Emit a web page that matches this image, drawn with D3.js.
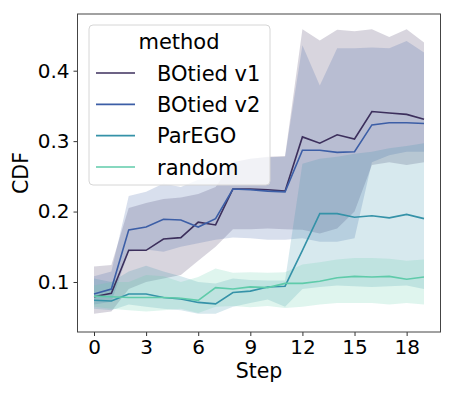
<!DOCTYPE html>
<meta charset="utf-8">
<script src="https://d3js.org/d3.v7.min.js"></script>
<style>
  body { margin: 0; background: #fff; }
  text { font-family: "DejaVu Sans", sans-serif; fill: #000; }
</style>
<div id="my_dataviz"></div>
<script>

// steps on the x axis
const steps = d3.range(0, 20)

// series names and colours
const methods = ["BOtied v1", "BOtied v2", "ParEGO", "random"]
const colors = ["#3c2f5c", "#3c5ea6", "#3592a8", "#5fcbaa"]

// mean CDF per step
const botiedV1 = [0.079, 0.084, 0.145, 0.145, 0.161, 0.163, 0.185, 0.181, 0.232, 0.232, 0.231, 0.229, 0.306, 0.297, 0.309, 0.303, 0.342, 0.340, 0.338, 0.331]
const botiedV2 = [0.083, 0.090, 0.174, 0.178, 0.189, 0.188, 0.178, 0.190, 0.232, 0.231, 0.229, 0.228, 0.287, 0.287, 0.284, 0.285, 0.323, 0.326, 0.326, 0.325]
const parego   = [0.074, 0.073, 0.083, 0.083, 0.078, 0.076, 0.071, 0.069, 0.085, 0.087, 0.093, 0.094, 0.145, 0.197, 0.197, 0.192, 0.194, 0.191, 0.196, 0.190]
const random   = [0.080, 0.079, 0.078, 0.078, 0.078, 0.077, 0.074, 0.092, 0.090, 0.093, 0.092, 0.098, 0.098, 0.101, 0.106, 0.108, 0.107, 0.108, 0.104, 0.107]

// confidence bands (lower / upper)
const botiedV1Lo = [0.055, 0.058, 0.090, 0.100, 0.105, 0.110, 0.130, 0.150, 0.175, 0.175, 0.176, 0.175, 0.174, 0.169, 0.176, 0.200, 0.266, 0.270, 0.266, 0.270]
const botiedV1Hi = [0.122, 0.124, 0.205, 0.212, 0.218, 0.220, 0.225, 0.235, 0.270, 0.275, 0.278, 0.279, 0.459, 0.443, 0.458, 0.456, 0.459, 0.448, 0.459, 0.440]
const botiedV2Lo = [0.068, 0.072, 0.143, 0.146, 0.143, 0.150, 0.155, 0.160, 0.163, 0.162, 0.160, 0.160, 0.162, 0.157, 0.157, 0.162, 0.270, 0.280, 0.285, 0.285]
const botiedV2Hi = [0.108, 0.115, 0.222, 0.228, 0.240, 0.235, 0.245, 0.250, 0.270, 0.275, 0.277, 0.278, 0.436, 0.379, 0.432, 0.432, 0.433, 0.432, 0.442, 0.426]
const paregoLo   = [0.062, 0.060, 0.068, 0.065, 0.062, 0.060, 0.055, 0.055, 0.065, 0.070, 0.075, 0.065, 0.090, 0.093, 0.095, 0.094, 0.093, 0.094, 0.095, 0.090]
const paregoHi   = [0.105, 0.100, 0.115, 0.123, 0.115, 0.108, 0.100, 0.098, 0.105, 0.103, 0.102, 0.102, 0.268, 0.275, 0.278, 0.282, 0.285, 0.290, 0.293, 0.297]
const randomLo   = [0.065, 0.062, 0.060, 0.058, 0.060, 0.062, 0.056, 0.065, 0.066, 0.064, 0.066, 0.063, 0.065, 0.068, 0.070, 0.070, 0.070, 0.068, 0.070, 0.068]
const randomHi   = [0.095, 0.100, 0.100, 0.110, 0.108, 0.100, 0.107, 0.119, 0.113, 0.114, 0.113, 0.114, 0.125, 0.128, 0.132, 0.134, 0.134, 0.133, 0.130, 0.132]

const xTicks = [0, 3, 6, 9, 12, 15, 18]
const yTicks = [0.1, 0.2, 0.3, 0.4]

const series = [
  {name: methods[0], color: colors[0], mean: botiedV1, lo: botiedV1Lo, hi: botiedV1Hi},
  {name: methods[1], color: colors[1], mean: botiedV2, lo: botiedV2Lo, hi: botiedV2Hi},
  {name: methods[2], color: colors[2], mean: parego,   lo: paregoLo,   hi: paregoHi},
  {name: methods[3], color: colors[3], mean: random,   lo: randomLo,   hi: randomHi}
]

// size of the page and the plot area
const W = 455, H = 396
const plot = {left: 77.5, right: 440.5, top: 14, bottom: 332}

const svg = d3.select("#my_dataviz")
  .append("svg")
  .attr("width", W)
  .attr("height", H)

const x = d3.scaleLinear()
  .domain([-0.95, 19.95])
  .range([plot.left, plot.right])

const y = d3.scaleLinear()
  .domain([0.029, 0.4805])
  .range([plot.bottom, plot.top])

// bands first, lines on top (like seaborn)
const area = d3.area()
  .x((d, i) => x(steps[i]))
  .y0(d => y(d[0]))
  .y1(d => y(d[1]))

svg.selectAll("myBands")
  .data(series)
  .join("path")
  .attr("d", s => area(s.lo.map((v, i) => [v, s.hi[i]])))
  .attr("fill", s => s.color)
  .attr("fill-opacity", 0.2)
  .attr("stroke", "none")

const line = d3.line()
  .x((d, i) => x(steps[i]))
  .y(d => y(d))

svg.selectAll("myLines")
  .data(series)
  .join("path")
  .attr("d", s => line(s.mean))
  .attr("fill", "none")
  .attr("stroke", s => s.color)
  .attr("stroke-width", 1.6)

// axes
const xAxis = svg.append("g")
  .attr("transform", `translate(0,${plot.bottom})`)
  .call(d3.axisBottom(x).tickValues(xTicks).tickSize(4).tickPadding(4))
xAxis.select(".domain").remove()
xAxis.selectAll("text").style("font-size", "20px").style("font-family", "DejaVu Sans").attr("fill", "#000")
xAxis.selectAll("line").attr("stroke", "#333")

const yAxis = svg.append("g")
  .attr("transform", `translate(${plot.left},0)`)
  .call(d3.axisLeft(y).tickValues(yTicks).tickFormat(d3.format(".1f")).tickSize(4).tickPadding(4))
yAxis.select(".domain").remove()
yAxis.selectAll("text").style("font-size", "20px").style("font-family", "DejaVu Sans").attr("fill", "#000")
yAxis.selectAll("line").attr("stroke", "#333")

// frame
svg.append("rect")
  .attr("x", plot.left)
  .attr("y", plot.top)
  .attr("width", plot.right - plot.left)
  .attr("height", plot.bottom - plot.top)
  .attr("fill", "none")
  .attr("stroke", "#444")
  .attr("stroke-width", 1)

// axis titles
svg.append("text")
  .attr("x", (plot.left + plot.right) / 2)
  .attr("y", 378)
  .attr("text-anchor", "middle")
  .style("font-size", "20.5px")
  .text("Step")

svg.append("text")
  .attr("transform", `translate(28,${(plot.top + plot.bottom) / 2}) rotate(-90)`)
  .attr("text-anchor", "middle")
  .style("font-size", "20.5px")
  .text("CDF")

// legend
const legend = svg.append("g")

legend.append("rect")
  .attr("x", 89)
  .attr("y", 25)
  .attr("width", 181)
  .attr("height", 160)
  .attr("rx", 4)
  .attr("fill", "#fff")
  .attr("fill-opacity", 0.8)
  .attr("stroke", "#d6d6d6")

legend.append("text")
  .attr("x", 179)
  .attr("y", 49)
  .attr("text-anchor", "middle")
  .style("font-size", "21px")
  .text("method")

const rowY = d3.scaleLinear().domain([0, 3]).range([73, 167])

legend.selectAll("legLines")
  .data(series)
  .join("line")
  .attr("x1", 96)
  .attr("x2", 135)
  .attr("y1", (d, i) => rowY(i))
  .attr("y2", (d, i) => rowY(i))
  .attr("stroke", d => d.color)
  .attr("stroke-width", 1.6)

legend.selectAll("legText")
  .data(series)
  .join("text")
  .attr("x", 157)
  .attr("y", (d, i) => rowY(i))
  .attr("dy", "0.36em")
  .style("font-size", "21px")
  .text(d => d.name)

</script>
